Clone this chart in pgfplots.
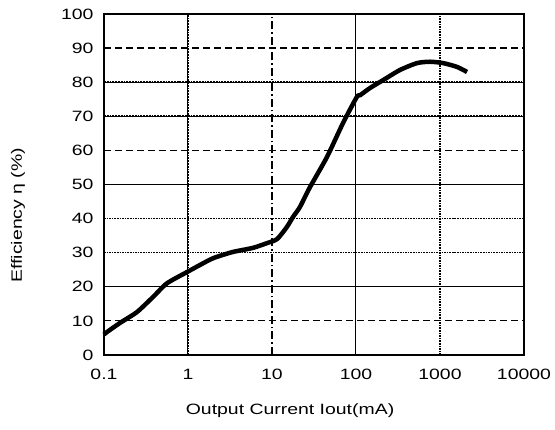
\documentclass[border=0pt]{standalone}
\usepackage{pgfplots}
\pgfplotsset{compat=1.18}
\usepackage{fontspec}
\setmainfont[FakeStretch=1.3]{Liberation Sans}
\begin{document}
\begin{tikzpicture}
\path[use as bounding box] (-104bp,-75bp) rectangle (451bp,355bp);
\begin{axis}[
  at={(0,0)}, anchor=south west,
  scale only axis,
  width=420bp, height=341bp,
  xmode=log, log basis x=10,
  xmin=0.1, xmax=10000, ymin=0, ymax=100,
  xtick={0.1,1,10,100,1000,10000},
  xticklabels={0.1,1,10,100,1000,10000},
  ytick={0,10,...,100},
  minor xtick={},
  tick style={draw=none},
  /pgf/number format/assume math mode=true,
  ticklabel style={font=\fontsize{15}{17}\selectfont},
  xticklabel style={yshift=-11bp},
  yticklabel style={xshift=-7bp},
  xlabel={Output Current Iout(mA)},
  ylabel={Efficiency η (\%)},
  label style={font=\fontsize{15}{17}\selectfont},
  xlabel style={at={(axis description cs:0.443,-0.164)}, anchor=center},
  ylabel style={at={(axis description cs:-0.205,0.41)}, anchor=center},
  axis line style={line width=1.6bp},
  clip=false,
]
% grid lines
\draw[line width=1.2bp, dash pattern=on 7bp off 4bp] (axis cs:0.1,90) -- (axis cs:10000,90);
\draw[line width=1.2bp, dash pattern=on 7bp off 4bp] (axis cs:0.1,60) -- (axis cs:10000,60);
\draw[line width=1.2bp, dash pattern=on 7bp off 4bp] (axis cs:0.1,10) -- (axis cs:10000,10);
\draw[line width=1.8bp, densely dotted] (axis cs:0.1,80) -- (axis cs:10000,80);
\draw[line width=1.8bp, densely dotted] (axis cs:0.1,70) -- (axis cs:10000,70);
\draw[line width=1bp] (axis cs:0.1,80) -- (axis cs:10000,80);
\draw[line width=1bp] (axis cs:0.1,70) -- (axis cs:10000,70);
\draw[line width=1bp] (axis cs:0.1,50) -- (axis cs:10000,50);
\draw[line width=1bp] (axis cs:0.1,20) -- (axis cs:10000,20);
\draw[line width=1.6bp, densely dotted] (axis cs:0.1,40) -- (axis cs:10000,40);
\draw[line width=1.6bp, densely dotted] (axis cs:0.1,30) -- (axis cs:10000,30);
\draw[line width=1.6bp, densely dotted] (axis cs:0.1,0) -- (axis cs:10000,0);
\draw[line width=1.8bp, densely dotted] (axis cs:0.1,0) -- (axis cs:0.1,100);
\draw[line width=1.8bp, densely dotted] (axis cs:10000,0) -- (axis cs:10000,100);
\draw[line width=1.8bp, densely dotted] (axis cs:1,0) -- (axis cs:1,100);
\draw[line width=1bp] (axis cs:1,0) -- (axis cs:1,100);
\draw[line width=1.2bp, dash pattern=on 8bp off 3bp on 1.5bp off 3bp] (axis cs:10,0) -- (axis cs:10,100);
\draw[line width=1bp] (axis cs:100,0) -- (axis cs:100,100);
\draw[line width=1.6bp, densely dotted] (axis cs:1000,0) -- (axis cs:1000,100);
\draw[line width=1.4bp] (axis cs:0.1,100) -- (axis cs:10000,100);
\addplot[black, line width=4.5bp, smooth, tension=0.4, no marks] coordinates {
(0.1,6) (0.108,6.7) (0.155,9.4) (0.247,12.6) (0.383,17) (0.56,21) (0.97,24.3)
(1.39,26.4) (2,28.4) (3.4,30.2) (5.9,31.4) (8.7,32.8) (11.5,34) (15,37.5)
(17.8,40.5) (21.5,43.4) (28,49) (45,58) (70,68) (102,75.6) (112,76.2)
(147,78.3) (210,80.6) (335,83.6) (533,85.6) (760,86) (1090,85.6) (1590,84.5) (2100,83)
};
\end{axis}
\end{tikzpicture}
\end{document}
